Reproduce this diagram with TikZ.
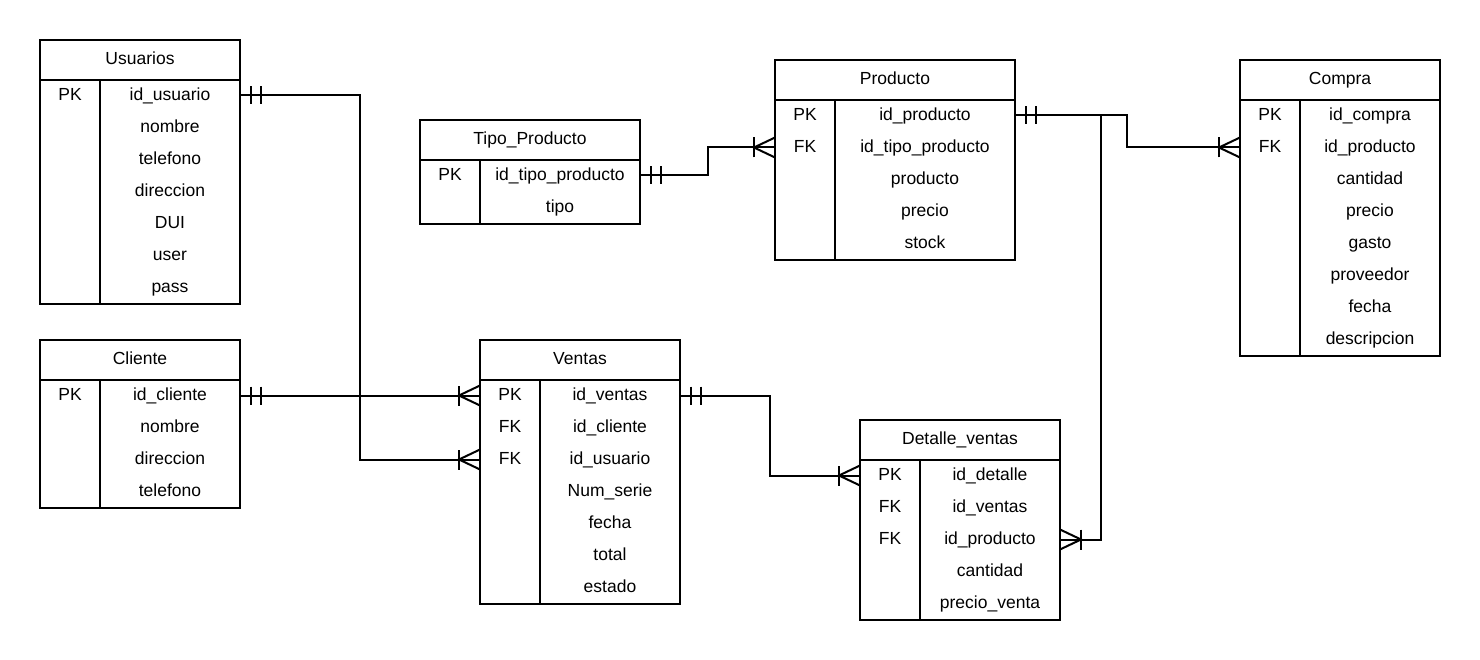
\documentclass[tikz,border=0pt]{standalone}
\usepackage{fontspec}
\setmainfont{Liberation Sans}
\tikzset{
  erframe/.style={draw, line width=2pt, anchor=north west, inner sep=0pt, outer sep=0pt},
  ertext/.style={anchor=base, inner sep=0pt, font=\fontsize{17.5}{20}\selectfont},
  erline/.style={line width=2pt},
}
\newcommand\erent[8]{%
  % #1 name, #2 left, #3 top, #4 width, #5 key column width, #6 title, #7 rows, #8 row count
  \node[erframe, minimum width=#4pt, minimum height={(40+32*#8)*1pt}] (#1) at (#2,#3) {};
  \draw[erline] (#2,{#3+40}) -- ({#2+#4},{#3+40});
  \draw[erline] ({#2+#5},{#3+40}) -- ({#2+#5},{#3+40+32*#8});
  \node[ertext] (#1-t) at ({#2+#4/2},{#3+24.5}) {#6};
  \foreach \k/\f [count=\i] in {#7} {
    \node[ertext] (#1-k\i) at ({#2+#5/2},{#3+28.5+32*\i}) {\k};
    \node[ertext] (#1-f\i) at ({#2+#5+(#4-#5)/2},{#3+28.5+32*\i}) {\f};
    \coordinate (#1-r\i) at (#2,{#3+23.5+32*\i});
  }
}
\newcommand\markone[2]{\begin{scope}[shift={(#1)},rotate=#2]\draw[erline] (11,-9)--(11,9) (21,-9)--(21,9);\end{scope}}
\newcommand\markmany[2]{\begin{scope}[shift={(#1)},rotate=#2]\draw[erline] (21,-10)--(21,10); \draw[erline] (0,-10)--(21,0)--(0,10);\end{scope}}
\begin{document}
\begin{tikzpicture}[x=1pt,y=-1pt]
\useasboundingbox[fill=white] (0,0) rectangle (1480,660);

\erent{usuarios}{40}{40}{200}{60}{Usuarios}{PK/id\_usuario,/nombre,/telefono,/direccion,/DUI,/user,/pass}{7}
\erent{cliente}{40}{340}{200}{60}{Cliente}{PK/id\_cliente,/nombre,/direccion,/telefono}{4}
\erent{tipo}{420}{120}{220}{60}{Tipo\_Producto}{PK/id\_tipo\_producto,/tipo}{2}
\erent{producto}{775}{60}{240}{60}{Producto}{PK/id\_producto,FK/id\_tipo\_producto,/producto,/precio,/stock}{5}
\erent{compra}{1240}{60}{200}{60}{Compra}{PK/id\_compra,FK/id\_producto,/cantidad,/precio,/gasto,/proveedor,/fecha,/descripcion}{8}
\erent{ventas}{480}{340}{200}{60}{Ventas}{PK/id\_ventas,FK/id\_cliente,FK/id\_usuario,/Num\_serie,/fecha,/total,/estado}{7}
\erent{detalle}{860}{420}{200}{60}{Detalle\_ventas}{PK/id\_detalle,FK/id\_ventas,FK/id\_producto,/cantidad,/precio\_venta}{5}

% connection points
\coordinate (uA) at (usuarios.east |- usuarios-r1);
\coordinate (vU) at (ventas.west |- ventas-r3);
\coordinate (cA) at (cliente.east |- cliente-r1);
\coordinate (vC) at (ventas.west |- ventas-r1);
\coordinate (tA) at (tipo.east |- tipo-r1);
\coordinate (pT) at (producto.west |- producto-r2);
\coordinate (pA) at (producto.east |- producto-r1);
\coordinate (cP) at (compra.west |- compra-r2);
\coordinate (dP) at (detalle.east |- detalle-r3);
\coordinate (vA) at (ventas.east |- ventas-r1);
\coordinate (dV) at (detalle.west |- detalle-r1);

\draw[erline] (uA) -- ++(120,0) |- (vU);
\draw[erline] (cA) -- (vC);
\draw[erline] (tA) -- ++(68,0) |- (pT);
\draw[erline] (pA) -- ++(112,0) |- (cP);
\draw[erline] (pA) -- ++(86,0) |- (dP);
\draw[erline] (vA) -- ++(90,0) |- (dV);

\markone{uA}{0}
\markone{cA}{0}
\markone{tA}{0}
\markone{pA}{0}
\markone{vA}{0}
\markmany{vU}{180}
\markmany{vC}{180}
\markmany{pT}{180}
\markmany{cP}{180}
\markmany{dV}{180}
\markmany{dP}{0}
\end{tikzpicture}
\end{document}
